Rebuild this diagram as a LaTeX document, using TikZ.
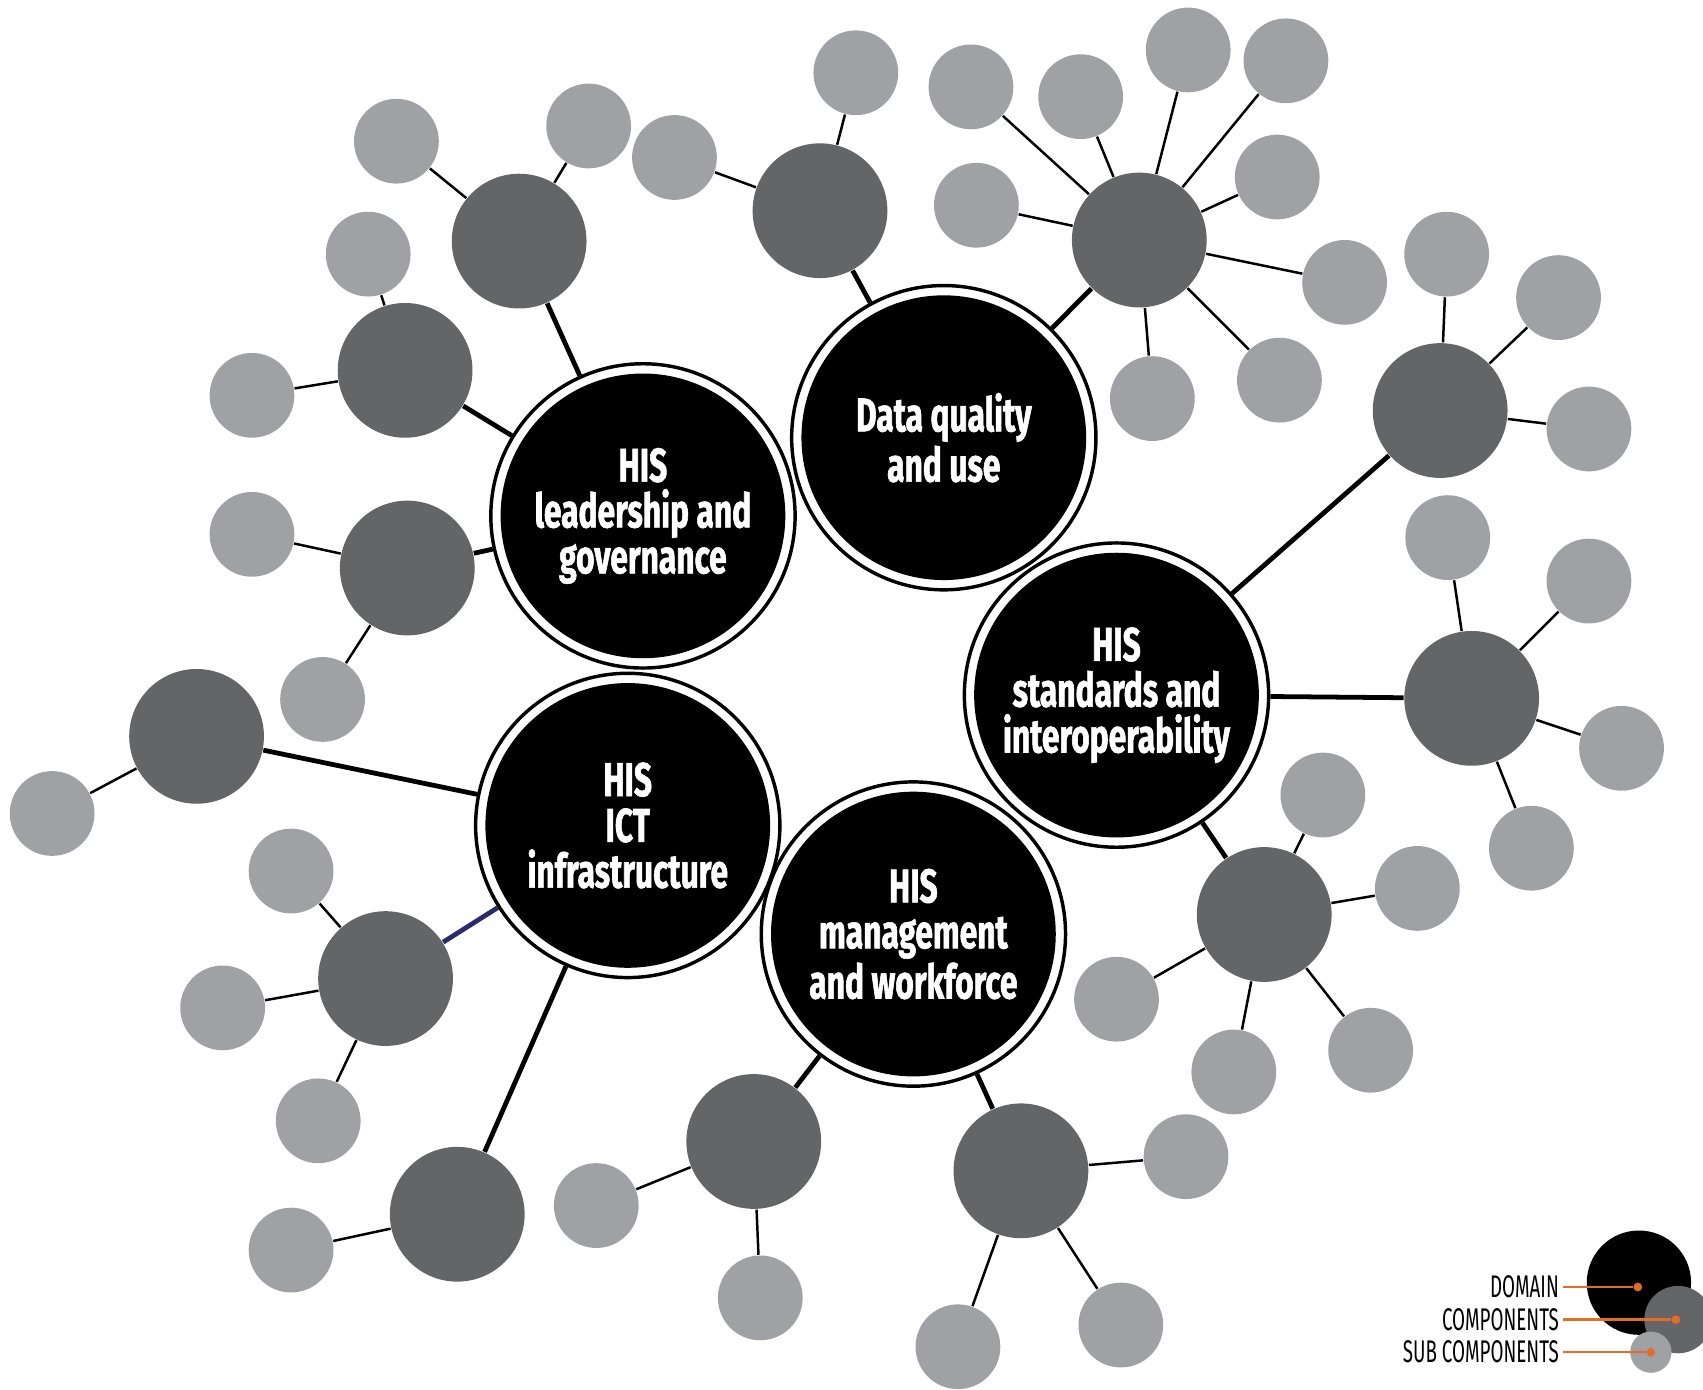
\documentclass[tikz,border=0pt]{standalone}
\usepackage{fontspec}
\newfontfamily\domfont{Fira Sans}[FakeStretch=0.67,FakeBold=1.2]
\newfontfamily\legfont{Fira Sans}[FakeStretch=0.6]
\definecolor{compgray}{HTML}{646567}
\definecolor{subgray}{HTML}{A0A1A4}
\definecolor{legorange}{HTML}{E36C26}
\definecolor{navyline}{HTML}{2B2A6B}
\begin{document}
\begin{tikzpicture}[x=0.01cm,y=-0.01cm,
  dom/.style={circle,draw=black,line width=0.9pt,fill=white,minimum size=2.8cm,inner sep=0pt,
    path picture={\fill[black] (path picture bounding box.center) circle (1.31cm);},
    text=white,align=center,font=\domfont\bfseries\fontsize{12.4}{12}\selectfont},
  comp/.style={circle,fill=compgray,minimum size=1.24cm,inner sep=0pt},
  sub/.style={circle,fill=subgray,minimum size=0.78cm,inner sep=0pt},
  mainlink/.style={line width=1.25pt},
  sublink/.style={line width=0.65pt},
  legtext/.style={font=\legfont\fontsize{8.2}{8.2}\selectfont,inner sep=0pt,anchor=east},
  odot/.style={circle,fill=legorange,minimum size=0.08cm,inner sep=0pt},
  oline/.style={draw=legorange,line width=0.6pt}
]
\useasboundingbox (0,0) rectangle (1568,1279);
% domains
\node[dom] (d1) at (592,475) {HIS\\leadership and\\governance};
\node[dom] (d2) at (869,403) {Data quality\\and use};
\node[dom] (d3) at (1028,640) {HIS\\standards and\\interoperability};
\node[dom] (d4) at (578,760) {HIS\\ICT\\infrastructure};
\node[dom] (d5) at (841,860) {HIS\\management\\and workforce};
% components
\foreach \n/\x/\y/\p in {c1/478/222/d1, c2/373/341/d1, c3/375/523/d1,
  c4/755/194/d2, c5/1049/221/d2,
  c6/1326/378/d3, c7/1355/643/d3, c8/1164/842/d3,
  c9/181/678/d4, c11/421/1118/d4,
  c12/694/1051/d5, c13/940/1078/d5}{
  \node[comp] (\n) at (\x,\y) {};
  \draw[mainlink] (\p) -- (\n);
}
\node[comp] (c10) at (355,901) {};
\draw[mainlink,draw=navyline] (d4) -- (c10);
% sub components
\foreach \n/\x/\y/\p in {s1/365/130/c1, s2/542/116/c1,
  s3/339/234/c2, s4/232/364/c2,
  s5/232/492/c3, s6/297/644/c3,
  s7/621/145/c4, s8/788/67/c4,
  s9/894/80/c5, s10/995/89/c5, s11/1094/46/c5, s12/1184/56/c5, s13/1176/163/c5,
  s14/899/189/c5, s15/1238/260/c5, s16/1178/350/c5, s17/1061/367/c5,
  s18/1332/234/c6, s19/1435/274/c6, s20/1463/395/c6,
  s21/1333/495/c7, s22/1463/535/c7, s23/1493/689/c7, s24/1410/781/c7,
  s25/1218/732/c8, s26/1305/818/c8, s27/1028/920/c8, s28/1136/987/c8, s29/1262/967/c8,
  s30/48/749/c9,
  s31/268/802/c10, s32/205/928/c10, s33/293/1032/c10,
  s34/268/1151/c11,
  s35/549/1110/c12, s36/700/1195/c12,
  s37/1092/1065/c13, s38/882/1240/c13, s39/1032/1220/c13}{
  \node[sub] (\n) at (\x,\y) {};
  \draw[sublink] (\p) -- (\n);
}
% legend
\node[circle,fill=black,minimum size=0.96cm,inner sep=0pt] (ld) at (1509,1181) {};
\node[circle,fill=compgray,minimum size=0.62cm,inner sep=0pt] (lc) at (1545,1215) {};
\node[circle,fill=subgray,minimum size=0.38cm,inner sep=0pt] (ls) at (1520,1245) {};
\node[odot] (o1) at (1508,1185) {};
\node[odot] (o2) at (1543,1215) {};
\node[odot] (o3) at (1520,1245) {};
\node[legtext] (t1) at (1436,1185) {DOMAIN};
\node[legtext] (t2) at (1436,1215) {COMPONENTS};
\node[legtext] (t3) at (1436,1245) {SUB COMPONENTS};
\draw[oline] ([xshift=1pt]t1.east) -- (o1);
\draw[oline] ([xshift=1pt]t2.east) -- (o2);
\draw[oline] ([xshift=1pt]t3.east) -- (o3);
\end{tikzpicture}
\end{document}
